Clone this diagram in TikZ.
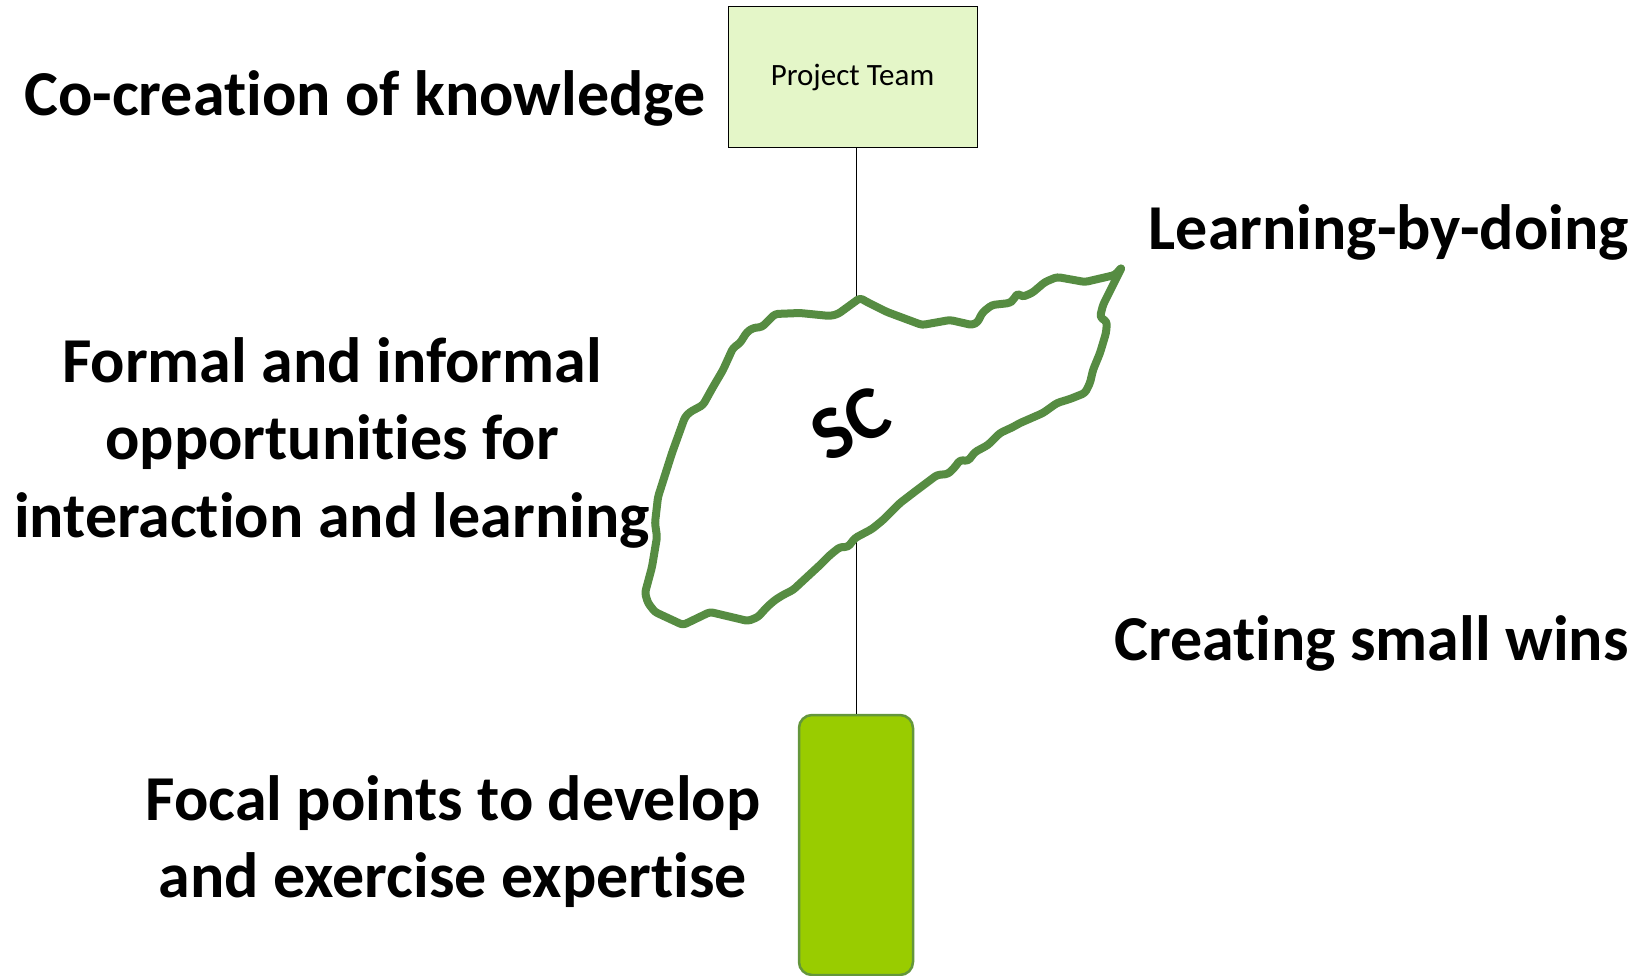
\documentclass[tikz,border=0pt]{standalone}
\usepackage{fontspec}
\setmainfont{Carlito}[Ligatures={NoCommon,NoRare,NoContextual}]
\definecolor{blobgreen}{RGB}{86,140,66}
\definecolor{teamfill}{RGB}{228,246,200}
\definecolor{focalfill}{RGB}{153,204,0}
\definecolor{focaldraw}{RGB}{100,150,60}
\tikzset{
  biglabel/.style={inner sep=0pt, font=\bfseries\fontsize{64}{77.5}\selectfont},
  teambox/.style={draw=black, line width=1pt, fill=teamfill, minimum width=249pt, minimum height=141pt, inner sep=0pt, font=\fontsize{31}{37}\selectfont},
  focalbox/.style={draw=focaldraw, line width=2.5pt, fill=focalfill, rounded corners=13pt, minimum width=114pt, minimum height=260pt, inner sep=0pt},
  link/.style={draw=black, line width=1pt},
  blobline/.style={draw=blobgreen, line width=8pt, line join=round, line cap=round, fill=white, rounded corners=3pt}
}
\begin{document}
\begin{tikzpicture}[x=1pt,y=-1pt]
\useasboundingbox (0,0) rectangle (1644,976);
% nodes
\node[teambox] (team) at (852.5,77.5) {Project Team};
\node[focalbox] (focal) at (856,845) {};
\coordinate (top) at (856,148);
% connector (blob drawn above hides its middle)
\draw[link] (top) -- (focal.north);
% blob
\draw[blobline] (860,298) -- (867,302) -- (887,312) -- (922,325) -- (950,320) -- (972,325) -- (978,322) -- (980,317) -- (983,312) -- (992,305) -- (1010,303) -- (1013,300) -- (1018,293) -- (1022,297) -- (1032,293) -- (1045,282) -- (1057,277) -- (1085,282) -- (1115,275) -- (1122,267) -- (1103,305) -- (1100,317) -- (1107,322) -- (1106,333) -- (1100,353) -- (1093,370) -- (1090,383) -- (1085,393) -- (1070,399) -- (1057,403) -- (1043,413) -- (1027,420) -- (1020,423) -- (1013,427) -- (1000,433) -- (988,445) -- (975,452) -- (968,461) -- (960,460) -- (955,467) -- (948,474) -- (937,475) -- (917,490) -- (900,503) -- (883,520) -- (872,529) -- (855,538) -- (848,547) -- (840,547) -- (830,555) -- (820,565) -- (807,577) -- (793,590) -- (783,595) -- (775,600) -- (767,607) -- (758,617) -- (748,621) -- (710,612) -- (683,625) -- (655,612) -- (648,603) -- (645,593) -- (652,567) -- (657,537) -- (655,523) -- (658,497) -- (672,453) -- (685,417) -- (690,412) -- (703,405) -- (713,387) -- (723,370) -- (733,348) -- (740,343) -- (747,332) -- (753,328) -- (762,327) -- (775,314) -- (800,313) -- (830,316) -- (838,314) -- cycle;
\node[inner sep=0pt, rotate=28, font=\bfseries\fontsize{76}{80}\selectfont] (sc) at (851,424) {SC};
% labels
\node[biglabel, anchor=base west] (cocreation) at (24,116) {Co-creation of knowledge};
\node[biglabel, anchor=base east] (learning) at (1629,250) {Learning-by-doing};
\node[biglabel, anchor=base] (formal) at (332,382) {\begin{tabular}[t]{@{}c@{}}Formal and informal\\ opportunities for\\ interaction and learning\end{tabular}};
\node[biglabel, anchor=base east] (wins) at (1629,660) {Creating small wins};
\node[biglabel, anchor=base] (focalpts) at (453,820) {\begin{tabular}[t]{@{}c@{}}Focal points to develop\\ and exercise expertise\end{tabular}};
\end{tikzpicture}
\end{document}
